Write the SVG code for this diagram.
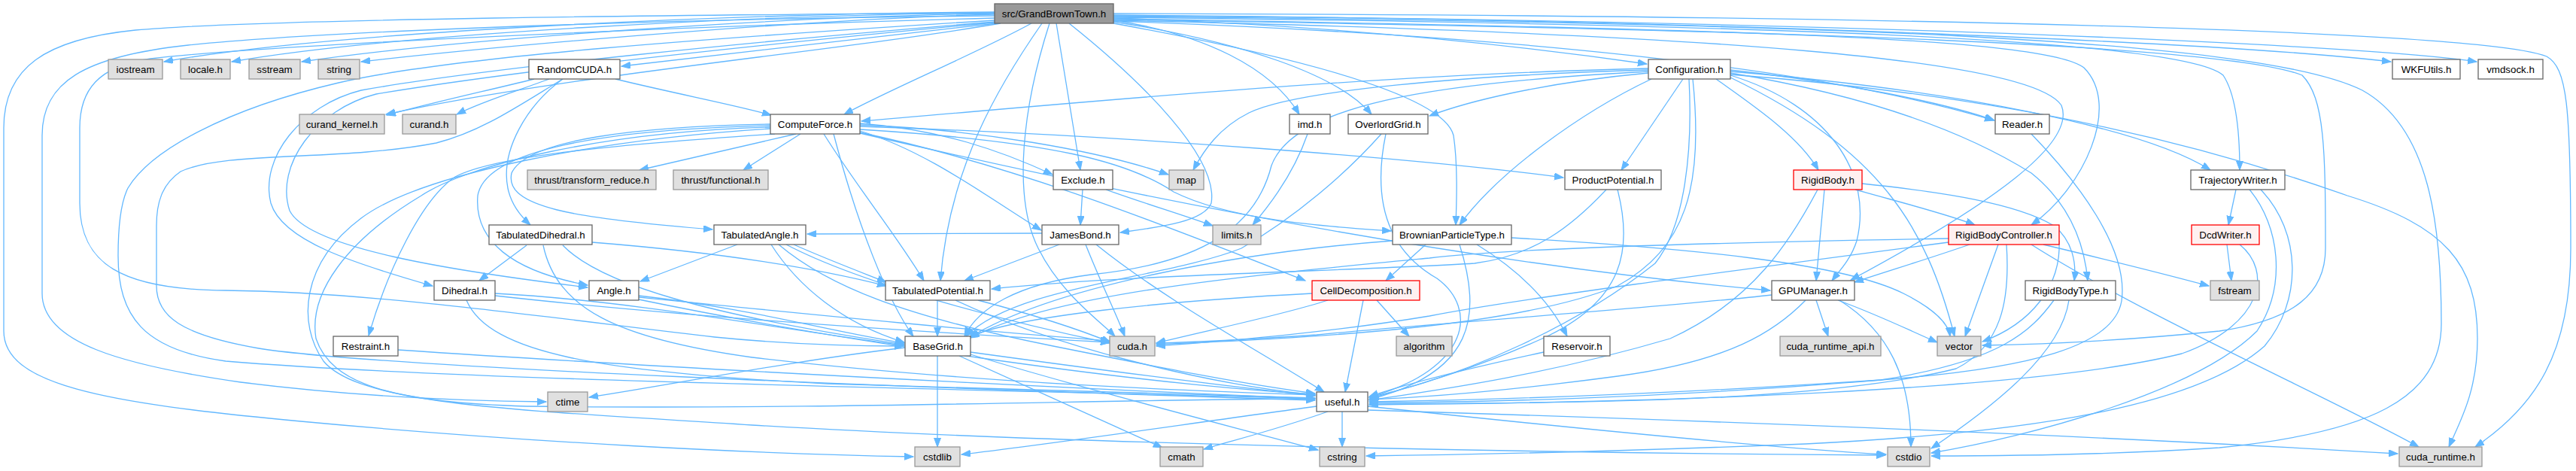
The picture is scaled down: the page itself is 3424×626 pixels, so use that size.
<svg xmlns="http://www.w3.org/2000/svg" width="3424" height="626" viewBox="0 0 3424 626">
<style>
.e{fill:none;stroke:#63b8ff;stroke-width:1.3;marker-end:url(#a)}
.n rect{fill:#ffffff;stroke:#666666;stroke-width:1.3}
.s rect{fill:#e0e0e0;stroke:#999999;stroke-width:1.3}
.r rect{fill:#fff0f0;stroke:#ff0000;stroke-width:1.3}
.root rect{fill:#999999;stroke:#666666;stroke-width:1.3}
text{font-family:"Liberation Sans",Arial,Helvetica,sans-serif;font-size:13.33px;fill:#000000;text-anchor:middle}
</style>
<defs>
<marker id="a" markerUnits="userSpaceOnUse" markerWidth="14" markerHeight="11" refX="12" refY="4.5" orient="auto">
<path d="M0,0 L12,4.5 L0,9 z" fill="#63b8ff" stroke="#63b8ff" stroke-width="1"/>
</marker>
</defs>
<rect width="3424" height="626" fill="#ffffff"/>
<g id="edges">
<path class="e" d="M1322,16 C1000,18 450,40 218,82"/>
<path class="e" d="M1322,17 C1000,20 520,45 308,82"/>
<path class="e" d="M1322,18 C1050,22 620,50 401,82"/>
<path class="e" d="M1322,19 C1100,25 720,55 480,82"/>
<path class="e" d="M1325,31 C1150,50 950,75 826,88"/>
<path class="e" d="M1330,31 C1100,70 750,100 513,152"/>
<path class="e" d="M1371,31 C1300,70 1180,120 1122,152"/>
<path class="e" d="M1385,31 C1330,110 1262,220 1250,373"/>
<path class="e" d="M1395,31 C1360,140 1345,260 1380,330 C1410,390 1460,425 1482,447"/>
<path class="e" d="M1404,31 L1436,226"/>
<path class="e" d="M1421,31 C1520,110 1620,210 1610,270 C1600,295 1540,302 1489,309"/>
<path class="e" d="M1480,27 C1600,45 1690,90 1727,152"/>
<path class="e" d="M1480,29 C1650,55 1780,100 1823,152"/>
<path class="e" d="M1480,31 C1750,80 1920,130 1932,180 C1938,220 1936,270 1935,299"/>
<path class="e" d="M1480,24 C1800,35 2050,65 2189,85"/>
<path class="e" d="M1480,20 C2200,25 2950,55 3178,82"/>
<path class="e" d="M1480,21 C2300,25 3100,55 3292,82"/>
<path class="e" d="M1480,18 C2500,20 3300,40 3385,75 C3412,90 3417,140 3417,330 C3417,470 3370,540 3290,594"/>
<path class="e" d="M1480,22 C2400,30 3000,50 3140,120 C3230,170 3245,300 3245,430 C3245,530 3150,575 2950,595 C2800,605 2650,606 2567,606"/>
<path class="e" d="M1480,23 C2300,32 2900,50 2955,100 C2975,130 2977,190 2977,226"/>
<path class="e" d="M1480,25 C2300,38 2720,50 2770,90 C2820,140 2770,250 2700,299"/>
<path class="e" d="M1480,26 C2400,40 2960,60 3060,100 C3090,130 3091,200 3091,330 C3091,390 3050,425 2950,440 C2800,455 2700,458 2635,459"/>
<path class="e" d="M1480,28 C2100,50 2450,100 2650,160"/>
<path class="e" d="M1480,27 C2300,45 2700,80 2740,140 C2760,190 2650,270 2460,372"/>
<path class="e" d="M1322,17 C900,20 350,25 180,40 C60,52 5,90 5,170 L5,440 C5,510 130,535 400,560 C700,588 1000,603 1214,607"/>
<path class="e" d="M1322,21 C900,25 450,40 250,60 C110,75 56,110 56,180 L56,390 C56,455 160,485 320,508 C480,528 620,533 726,534"/>
<path class="e" d="M1322,24 C900,35 350,60 200,78 C130,88 106,120 106,170 L106,270 C106,350 160,385 300,386 C500,388 750,425 950,448 C1050,458 1130,460 1201,460"/>
<path class="e" d="M1322,27 C950,50 600,75 450,110 C300,145 200,200 170,250 C160,270 157,300 157,340 C157,420 190,465 300,480 C600,505 1200,515 1748,530"/>
<path class="e" d="M1322,29 C1000,55 650,90 480,120 C400,140 345,210 360,270 C375,320 470,350 575,380"/>
<path class="e" d="M1322,30 C1000,60 680,95 500,125 C420,145 365,220 385,280 C410,330 600,360 781,382"/>
<path class="e" d="M2191,93 C1950,100 1720,120 1660,150 C1620,170 1600,200 1586,226"/>
<path class="e" d="M2191,95 C1900,110 1720,140 1690,220 C1670,300 1600,350 1450,365 C1350,378 1300,410 1282,447"/>
<path class="e" d="M2191,91 C1800,100 1400,140 1145,161"/>
<path class="e" d="M2191,97 C2050,110 1950,135 1900,154"/>
<path class="e" d="M2195,105 C2100,150 1990,230 1940,299"/>
<path class="e" d="M2237,105 L2155,226"/>
<path class="e" d="M2245,105 C2250,200 2240,300 2200,350 C2100,430 1950,500 1820,528"/>
<path class="e" d="M2250,105 C2265,250 2240,330 2150,380 C2000,440 1700,450 1537,458"/>
<path class="e" d="M2281,105 C2330,140 2390,180 2417,226"/>
<path class="e" d="M2300,100 C2430,140 2490,230 2468,320 C2460,345 2445,360 2435,373"/>
<path class="e" d="M2300,103 C2500,200 2560,300 2598,447"/>
<path class="e" d="M2300,93 C2450,110 2580,135 2651,160"/>
<path class="e" d="M2300,97 C2500,130 2620,180 2700,230 C2750,270 2770,320 2775,373"/>
<path class="e" d="M2300,95 C2600,120 2850,170 2938,226"/>
<path class="e" d="M2300,99 C2700,130 2950,200 3120,260 C3250,300 3293,350 3293,450 C3293,520 3270,560 3255,594"/>
<path class="e" d="M1058,178 L850,226"/>
<path class="e" d="M1064,178 L988,226"/>
<path class="e" d="M1024,165 C850,168 700,185 680,230 C670,275 760,290 947,305"/>
<path class="e" d="M1024,167 C800,172 645,200 635,260 C630,320 680,360 781,379"/>
<path class="e" d="M1024,169 C800,175 620,220 560,260 C460,320 410,390 420,450 C440,510 520,535 700,540 C1100,545 1500,530 1748,530"/>
<path class="e" d="M1024,171 C800,185 560,230 480,290 C400,350 395,430 430,480 C480,540 700,545 1000,565 C1500,595 2200,603 2506,605"/>
<path class="e" d="M1030,178 C850,190 660,205 605,235 C560,265 515,360 490,446"/>
<path class="e" d="M1143,166 C1300,172 1460,200 1553,232"/>
<path class="e" d="M1143,164 C1250,172 1330,200 1399,232"/>
<path class="e" d="M1143,174 C1230,200 1310,260 1384,306"/>
<path class="e" d="M1143,172 C1400,188 1500,215 1560,255 C1640,295 1780,302 1849,307"/>
<path class="e" d="M1143,168 C1500,180 1900,212 2078,236"/>
<path class="e" d="M1143,176 C1350,220 1550,300 1735,373"/>
<path class="e" d="M1143,177 C1500,260 1950,350 2353,386"/>
<path class="e" d="M1095,178 C1140,250 1190,310 1228,373"/>
<path class="e" d="M1108,178 C1140,300 1180,400 1214,447"/>
<path class="e" d="M710,105 C650,120 580,135 514,153"/>
<path class="e" d="M730,105 C690,120 640,135 607,152"/>
<path class="e" d="M818,105 C900,125 980,140 1025,153"/>
<path class="e" d="M748,105 C700,140 665,200 675,250 C680,275 695,290 705,299"/>
<path class="e" d="M748,105 C690,140 640,175 580,190 C450,215 300,200 240,228 C215,245 208,270 208,300 L208,380 C208,420 240,445 344,463 C500,488 1200,515 1748,532"/>
<path class="e" d="M1408,325 L1282,373"/>
<path class="e" d="M1443,325 C1465,380 1485,420 1495,447"/>
<path class="e" d="M1457,325 C1550,400 1680,470 1760,521"/>
<path class="e" d="M1385,310 L1073,311"/>
<path class="e" d="M1439,252 L1436,299"/>
<path class="e" d="M1470,252 C1520,270 1570,285 1612,300"/>
<path class="e" d="M1738,178 C1720,230 1690,270 1665,299"/>
<path class="e" d="M1836,178 C1790,230 1720,290 1650,330 C1550,370 1350,380 1284,447"/>
<path class="e" d="M1842,178 C1825,260 1840,330 1910,370 C1965,410 1955,490 1820,528"/>
<path class="e" d="M1765,399 C1700,420 1600,440 1537,456"/>
<path class="e" d="M1812,399 L1788,521"/>
<path class="e" d="M1830,399 L1873,447"/>
<path class="e" d="M1744,390 C1550,400 1350,420 1288,448"/>
<path class="e" d="M1963,325 C2020,360 2060,400 2083,447"/>
<path class="e" d="M1895,325 L1842,373"/>
<path class="e" d="M1851,320 C1650,335 1400,380 1288,449"/>
<path class="e" d="M1940,325 C1970,420 1960,495 1820,531"/>
<path class="e" d="M2009,316 C2250,330 2450,350 2530,390 C2570,410 2590,430 2592,447"/>
<path class="e" d="M2052,468 C1950,490 1870,510 1820,527"/>
<path class="e" d="M2150,252 C2170,330 2160,400 2050,450 C1950,495 1870,515 1820,530"/>
<path class="e" d="M2135,252 C2090,300 2040,340 1960,350 C1800,360 1500,365 1318,384"/>
<path class="e" d="M2425,252 L2414,373"/>
<path class="e" d="M2466,252 C2530,270 2590,285 2625,299"/>
<path class="e" d="M2475,244 C2580,255 2680,270 2730,300 C2755,320 2760,350 2757,373"/>
<path class="e" d="M2416,252 C2380,320 2330,400 2220,450 C2050,500 1900,520 1820,532"/>
<path class="e" d="M2618,325 C2560,345 2510,360 2465,375"/>
<path class="e" d="M2656,325 L2612,447"/>
<path class="e" d="M2716,325 C2800,345 2880,365 2936,380"/>
<path class="e" d="M2700,325 C2850,420 3100,530 3215,594"/>
<path class="e" d="M2667,325 C2672,400 2660,460 2600,490 C2400,540 2000,535 1820,537"/>
<path class="e" d="M2590,317 C2300,322 2000,330 1900,343 C1650,367 1400,390 1290,449"/>
<path class="e" d="M2590,322 C2300,360 2000,400 1900,420 C1750,445 1600,455 1537,460"/>
<path class="e" d="M2737,320 C2740,380 2700,430 2635,454"/>
<path class="e" d="M2730,399 C2700,440 2660,480 2500,505 C2200,530 1950,535 1820,535"/>
<path class="e" d="M2750,399 C2740,470 2650,540 2567,596"/>
<path class="e" d="M2414,399 L2430,447"/>
<path class="e" d="M2443,399 C2500,420 2540,440 2575,455"/>
<path class="e" d="M2445,399 C2510,440 2540,500 2540,594"/>
<path class="e" d="M2400,399 C2360,440 2300,480 2150,500 C2000,520 1900,528 1820,531"/>
<path class="e" d="M2355,392 C2200,410 1900,430 1750,445 C1650,452 1580,455 1537,456"/>
<path class="e" d="M2972,252 L2962,299"/>
<path class="e" d="M2990,252 C3030,300 3040,380 3000,440 C2920,520 2700,580 2567,602"/>
<path class="e" d="M3005,252 C3060,310 3060,400 3010,460 C2920,540 2700,575 2400,590 C2100,602 1900,605 1816,606"/>
<path class="e" d="M2960,325 L2966,373"/>
<path class="e" d="M2977,325 C3020,360 3010,430 2900,470 C2700,520 2200,535 1820,538"/>
<path class="e" d="M2700,178 C2760,240 2830,330 2820,400 C2810,460 2700,490 2500,505 C2200,525 1950,532 1820,534"/>
<path class="e" d="M1750,540 C1600,560 1400,590 1278,604"/>
<path class="e" d="M1765,547 C1700,570 1640,585 1600,597"/>
<path class="e" d="M1784,547 L1784,594"/>
<path class="e" d="M1818,540 C2100,570 2350,595 2507,604"/>
<path class="e" d="M1818,545 C2300,560 2800,580 3187,603"/>
<path class="e" d="M1246,473 L1246,594"/>
<path class="e" d="M1275,473 C1380,520 1480,565 1545,595"/>
<path class="e" d="M1290,471 C1450,520 1650,570 1752,598"/>
<path class="e" d="M1290,468 C1450,490 1600,510 1748,526"/>
<path class="e" d="M1203,462 C1050,480 900,510 783,528"/>
<path class="e" d="M1246,399 L1246,447"/>
<path class="e" d="M1270,399 C1400,460 1600,510 1748,525"/>
<path class="e" d="M1300,399 C1380,420 1440,440 1476,455"/>
<path class="e" d="M980,325 L851,374"/>
<path class="e" d="M1055,325 C1100,345 1140,360 1178,375"/>
<path class="e" d="M1025,325 C1060,380 1120,430 1202,455"/>
<path class="e" d="M1035,325 C1100,380 1200,420 1400,460 C1550,490 1650,510 1748,523"/>
<path class="e" d="M1045,325 C1150,380 1350,430 1475,456"/>
<path class="e" d="M700,326 L637,373"/>
<path class="e" d="M787,322 C950,335 1080,355 1178,380"/>
<path class="e" d="M748,326 C800,380 950,420 1202,458"/>
<path class="e" d="M722,326 C740,410 820,450 1000,475 C1300,510 1600,520 1748,525"/>
<path class="e" d="M849,393 C1000,410 1100,440 1202,456"/>
<path class="e" d="M849,395 C1100,420 1300,440 1475,453"/>
<path class="e" d="M849,398 C1100,450 1500,510 1748,524"/>
<path class="e" d="M658,390 C850,400 1050,440 1202,459"/>
<path class="e" d="M620,399 C650,470 800,495 1100,510 C1400,520 1600,525 1748,529"/>
<path class="e" d="M658,393 C900,420 1200,440 1475,455"/>
<path class="e" d="M529,465 C900,490 1400,515 1748,530"/>
</g>
<g id="node-root" class="root"><rect x="1322" y="5" width="158" height="26"/><text x="1401" y="22.7">src/GrandBrownTown.h</text></g>
<g id="node-iostream" class="s"><rect x="144" y="79" width="72" height="26"/><text x="180" y="96.7">iostream</text></g>
<g id="node-locale" class="s"><rect x="240" y="79" width="66" height="26"/><text x="273" y="96.7">locale.h</text></g>
<g id="node-sstream" class="s"><rect x="331" y="79" width="68" height="26"/><text x="365" y="96.7">sstream</text></g>
<g id="node-string" class="s"><rect x="423" y="79" width="55" height="26"/><text x="450.5" y="96.7">string</text></g>
<g id="node-RandomCUDA" class="n"><rect x="703" y="79" width="121" height="26"/><text x="763.5" y="96.7">RandomCUDA.h</text></g>
<g id="node-Configuration" class="n"><rect x="2191" y="79" width="109" height="26"/><text x="2245.5" y="96.7">Configuration.h</text></g>
<g id="node-WKFUtils" class="n"><rect x="3180" y="79" width="90" height="26"/><text x="3225" y="96.7">WKFUtils.h</text></g>
<g id="node-vmdsock" class="n"><rect x="3294" y="79" width="86" height="26"/><text x="3337" y="96.7">vmdsock.h</text></g>
<g id="node-curand_kernel" class="s"><rect x="398" y="152" width="113" height="26"/><text x="454.5" y="169.7">curand_kernel.h</text></g>
<g id="node-curand" class="s"><rect x="535" y="152" width="71" height="26"/><text x="570.5" y="169.7">curand.h</text></g>
<g id="node-ComputeForce" class="n"><rect x="1024" y="152" width="119" height="26"/><text x="1083.5" y="169.7">ComputeForce.h</text></g>
<g id="node-imd" class="n"><rect x="1714" y="152" width="54" height="26"/><text x="1741" y="169.7">imd.h</text></g>
<g id="node-OverlordGrid" class="n"><rect x="1792" y="152" width="106" height="26"/><text x="1845" y="169.7">OverlordGrid.h</text></g>
<g id="node-Reader" class="n"><rect x="2652" y="152" width="72" height="26"/><text x="2688" y="169.7">Reader.h</text></g>
<g id="node-thrust_transform_reduce" class="s"><rect x="701" y="226" width="171" height="26"/><text x="786.5" y="243.7">thrust/transform_reduce.h</text></g>
<g id="node-thrust_functional" class="s"><rect x="895" y="226" width="126" height="26"/><text x="958" y="243.7">thrust/functional.h</text></g>
<g id="node-Exclude" class="n"><rect x="1400" y="226" width="79" height="26"/><text x="1439.5" y="243.7">Exclude.h</text></g>
<g id="node-map" class="s"><rect x="1554" y="226" width="46" height="26"/><text x="1577" y="243.7">map</text></g>
<g id="node-ProductPotential" class="n"><rect x="2080" y="226" width="128" height="26"/><text x="2144" y="243.7">ProductPotential.h</text></g>
<g id="node-RigidBody" class="r"><rect x="2384" y="226" width="91" height="26"/><text x="2429.5" y="243.7">RigidBody.h</text></g>
<g id="node-TrajectoryWriter" class="n"><rect x="2912" y="226" width="125" height="26"/><text x="2974.5" y="243.7">TrajectoryWriter.h</text></g>
<g id="node-TabulatedDihedral" class="n"><rect x="650" y="299" width="137" height="26"/><text x="718.5" y="316.7">TabulatedDihedral.h</text></g>
<g id="node-TabulatedAngle" class="n"><rect x="949" y="299" width="122" height="26"/><text x="1010" y="316.7">TabulatedAngle.h</text></g>
<g id="node-JamesBond" class="n"><rect x="1385" y="299" width="102" height="26"/><text x="1436" y="316.7">JamesBond.h</text></g>
<g id="node-limits" class="s"><rect x="1612" y="299" width="64" height="26"/><text x="1644" y="316.7">limits.h</text></g>
<g id="node-BrownianParticleType" class="n"><rect x="1851" y="299" width="158" height="26"/><text x="1930" y="316.7">BrownianParticleType.h</text></g>
<g id="node-RigidBodyController" class="r"><rect x="2590" y="299" width="147" height="26"/><text x="2663.5" y="316.7">RigidBodyController.h</text></g>
<g id="node-DcdWriter" class="r"><rect x="2913" y="299" width="90" height="26"/><text x="2958" y="316.7">DcdWriter.h</text></g>
<g id="node-Dihedral" class="n"><rect x="577" y="373" width="81" height="26"/><text x="617.5" y="390.7">Dihedral.h</text></g>
<g id="node-Angle" class="n"><rect x="783" y="373" width="66" height="26"/><text x="816" y="390.7">Angle.h</text></g>
<g id="node-TabulatedPotential" class="n"><rect x="1177" y="373" width="139" height="26"/><text x="1246.5" y="390.7">TabulatedPotential.h</text></g>
<g id="node-CellDecomposition" class="r"><rect x="1744" y="373" width="143" height="26"/><text x="1815.5" y="390.7">CellDecomposition.h</text></g>
<g id="node-GPUManager" class="n"><rect x="2355" y="373" width="110" height="26"/><text x="2410" y="390.7">GPUManager.h</text></g>
<g id="node-RigidBodyType" class="n"><rect x="2692" y="373" width="120" height="26"/><text x="2752" y="390.7">RigidBodyType.h</text></g>
<g id="node-fstream" class="s"><rect x="2938" y="373" width="65" height="26"/><text x="2970.5" y="390.7">fstream</text></g>
<g id="node-Restraint" class="n"><rect x="443" y="447" width="86" height="26"/><text x="486" y="464.7">Restraint.h</text></g>
<g id="node-BaseGrid" class="n"><rect x="1203" y="447" width="87" height="26"/><text x="1246.5" y="464.7">BaseGrid.h</text></g>
<g id="node-cuda" class="s"><rect x="1475" y="447" width="60" height="26"/><text x="1505" y="464.7">cuda.h</text></g>
<g id="node-algorithm" class="s"><rect x="1856" y="447" width="74" height="26"/><text x="1893" y="464.7">algorithm</text></g>
<g id="node-Reservoir" class="n"><rect x="2052" y="447" width="88" height="26"/><text x="2096" y="464.7">Reservoir.h</text></g>
<g id="node-cuda_runtime_api" class="s"><rect x="2366" y="447" width="134" height="26"/><text x="2433" y="464.7">cuda_runtime_api.h</text></g>
<g id="node-vector" class="s"><rect x="2575" y="447" width="58" height="26"/><text x="2604" y="464.7">vector</text></g>
<g id="node-ctime" class="s"><rect x="728" y="521" width="53" height="26"/><text x="754.5" y="538.7">ctime</text></g>
<g id="node-useful" class="n"><rect x="1750" y="521" width="68" height="26"/><text x="1784" y="538.7">useful.h</text></g>
<g id="node-cstdlib" class="s"><rect x="1216" y="594" width="60" height="26"/><text x="1246" y="611.7">cstdlib</text></g>
<g id="node-cmath" class="s"><rect x="1542" y="594" width="57" height="26"/><text x="1570.5" y="611.7">cmath</text></g>
<g id="node-cstring" class="s"><rect x="1754" y="594" width="60" height="26"/><text x="1784" y="611.7">cstring</text></g>
<g id="node-cstdio" class="s"><rect x="2509" y="594" width="56" height="26"/><text x="2537" y="611.7">cstdio</text></g>
<g id="node-cuda_runtime" class="s"><rect x="3189" y="594" width="110" height="26"/><text x="3244" y="611.7">cuda_runtime.h</text></g>
</svg>
